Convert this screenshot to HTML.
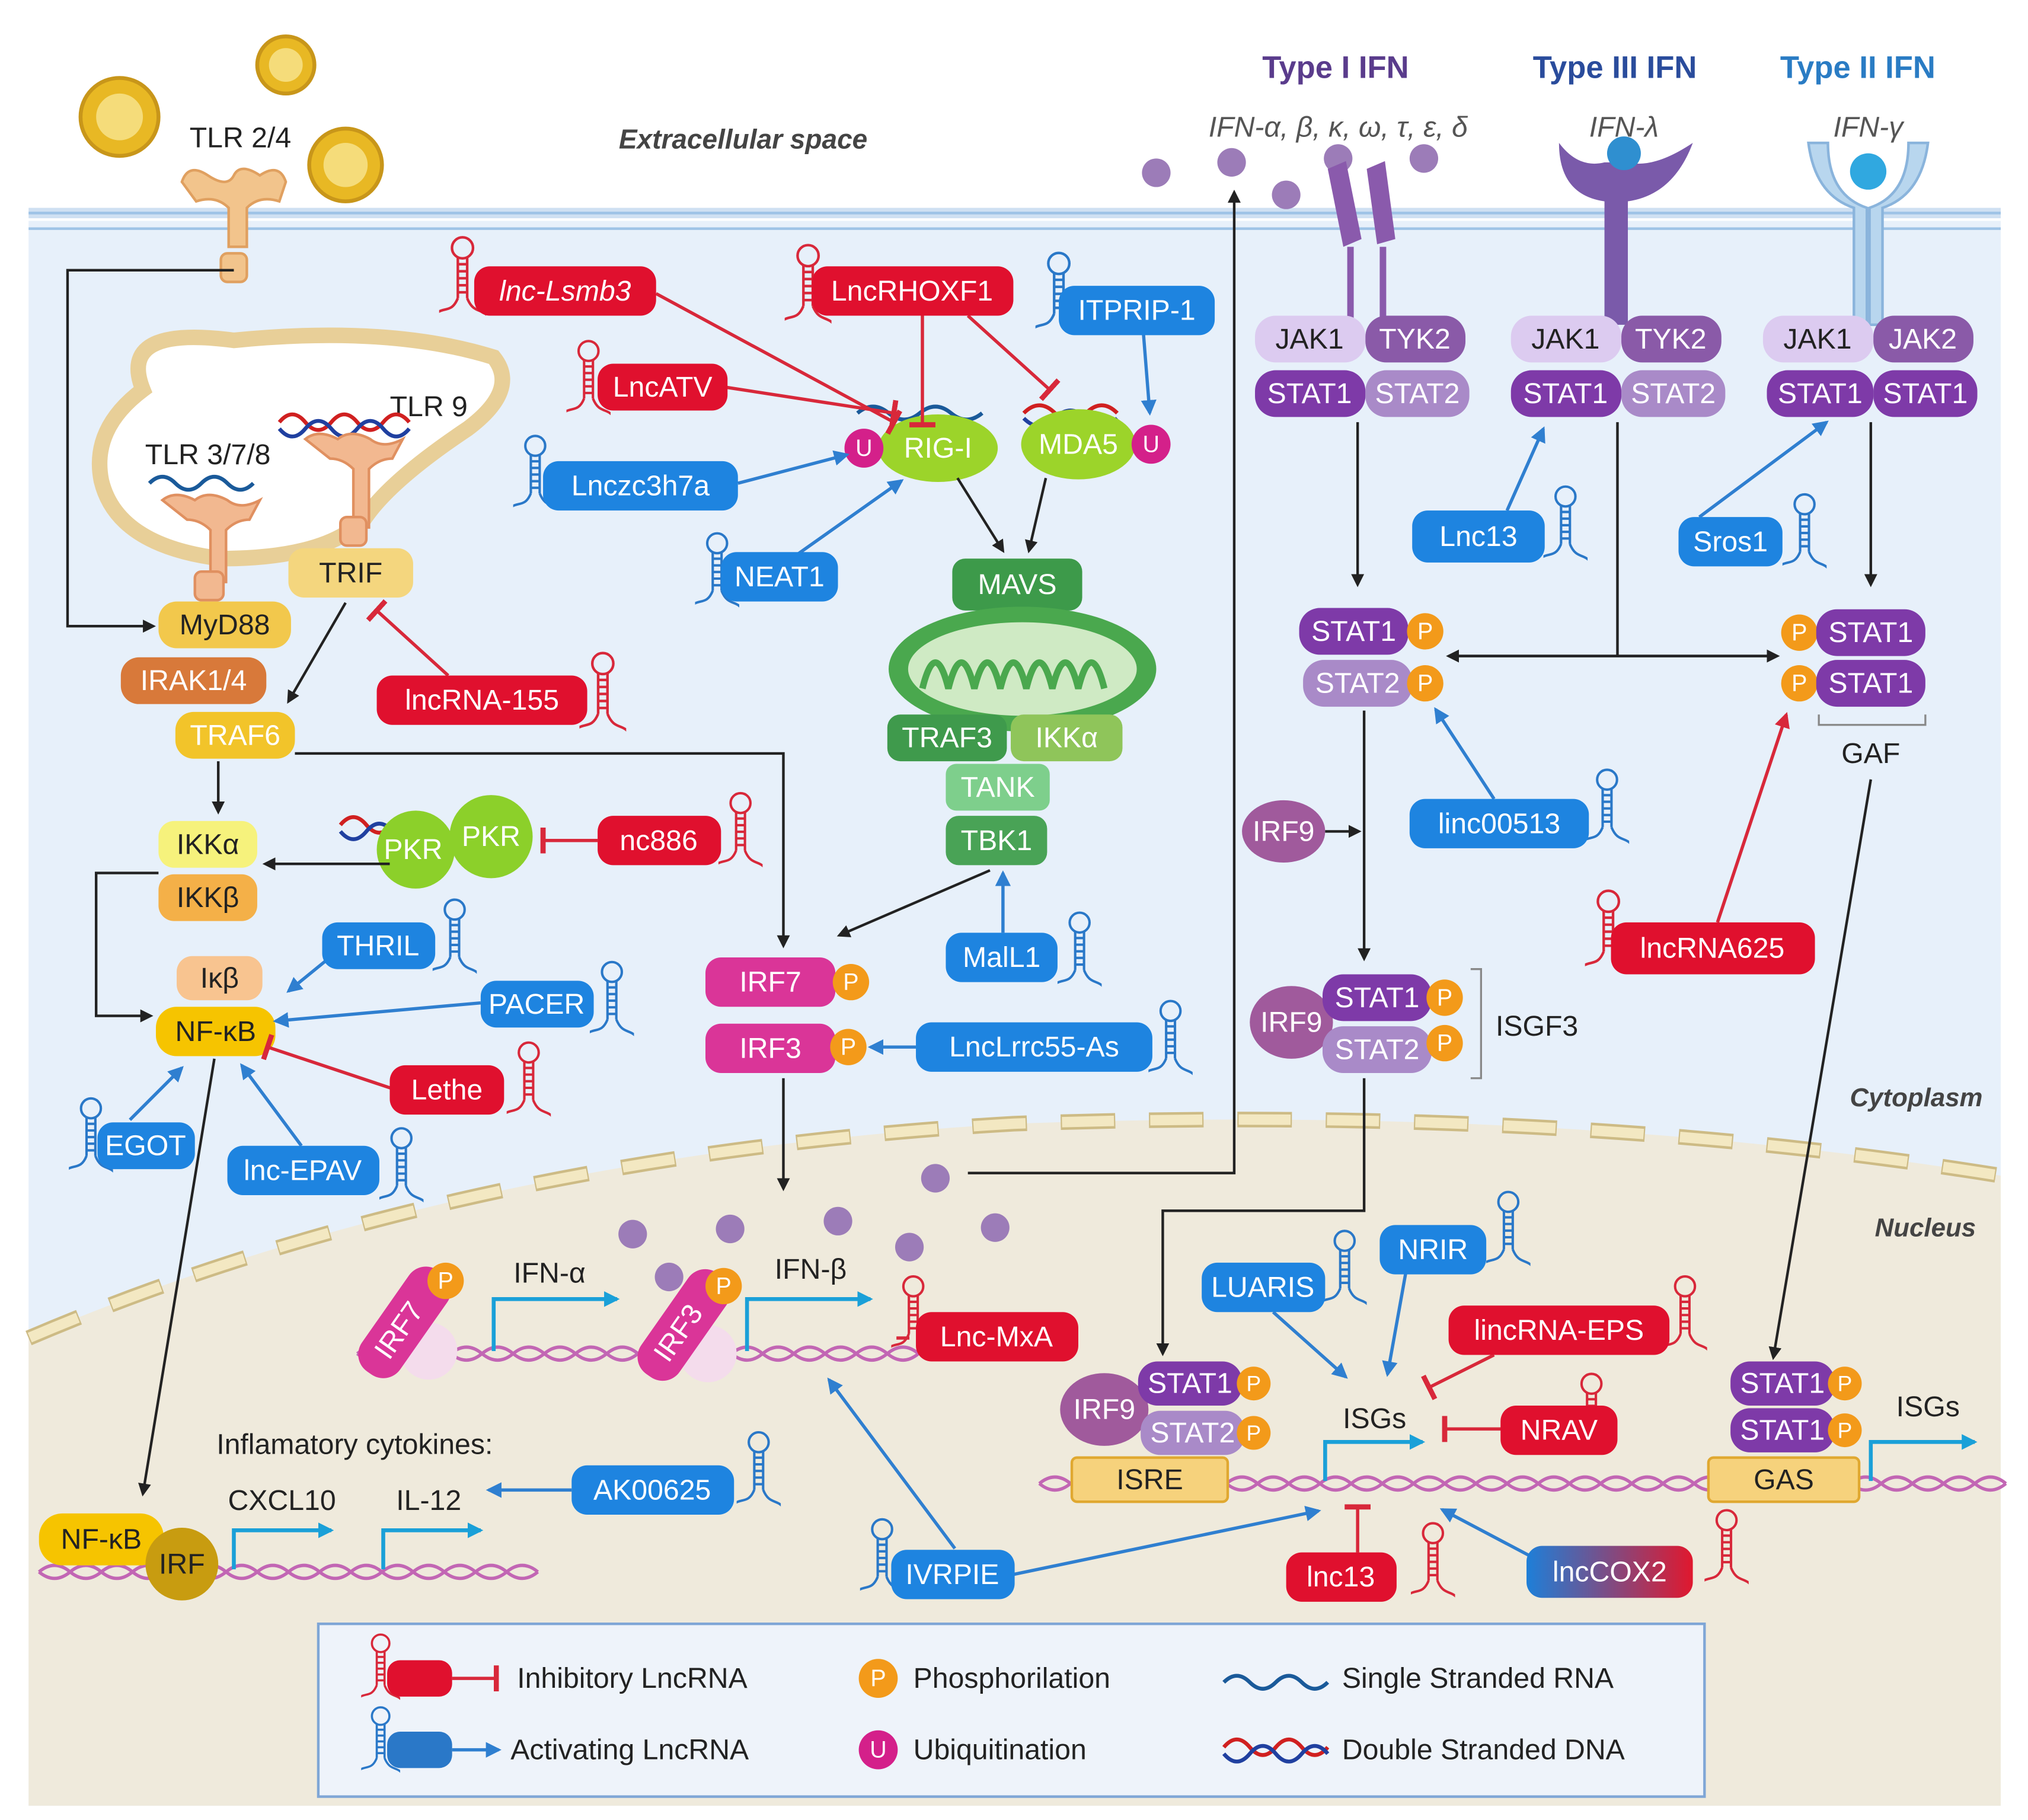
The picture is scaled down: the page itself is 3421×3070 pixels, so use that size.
<!DOCTYPE html>
<html><head><meta charset="utf-8">
<style>
html,body{margin:0;padding:0;background:#fff;}
svg{display:block;}
text{font-family:"Liberation Sans",sans-serif;}
.w{fill:#fff;font-size:22px;text-anchor:middle;dominant-baseline:central;}
.k{fill:#222;font-size:22px;text-anchor:middle;dominant-baseline:central;}
.h{font-size:24px;font-weight:bold;text-anchor:middle;}
.it{font-style:italic;}
</style></head><body>
<svg width="3421" height="3070" viewBox="0 0 1561 1401" preserveAspectRatio="none" xmlns="http://www.w3.org/2000/svg">
<defs>
<marker id="ak" markerWidth="10" markerHeight="10" refX="8" refY="5" orient="auto" markerUnits="userSpaceOnUse"><path d="M0,0 L10,5 L0,10 Z" fill="#222"/></marker>
<marker id="ab" markerWidth="12" markerHeight="12" refX="10" refY="6" orient="auto" markerUnits="userSpaceOnUse"><path d="M0,0 L12,6 L0,12 Z" fill="#2f7fd0"/></marker>
<marker id="ar" markerWidth="12" markerHeight="12" refX="10" refY="6" orient="auto" markerUnits="userSpaceOnUse"><path d="M0,0 L12,6 L0,12 Z" fill="#d8283a"/></marker>
<marker id="ac" markerWidth="12" markerHeight="12" refX="10" refY="6" orient="auto" markerUnits="userSpaceOnUse"><path d="M0,0 L12,6 L0,12 Z" fill="#1aa0d8"/></marker>
<marker id="bar" markerWidth="4" markerHeight="20" refX="2" refY="10" orient="auto" markerUnits="userSpaceOnUse"><rect x="0" y="0" width="4" height="20" fill="#d8283a"/></marker>
<symbol id="hp" viewBox="0 0 40 80"><g fill="none" stroke="currentColor" stroke-width="2.2"><circle cx="20" cy="12" r="9"/><path d="M16,20 V55 M24,20 V55 M16,26 H24 M16,32 H24 M16,38 H24 M16,44 H24 M16,50 H24 M16,55 C10,70 2,60 -6,72 M24,55 C30,70 38,62 44,74"/></g></symbol>
<linearGradient id="cox" x1="0" x2="1"><stop offset="0" stop-color="#1e7fd8"/><stop offset="1" stop-color="#e0182e"/></linearGradient>
</defs>

<!-- backgrounds -->
<rect x="22" y="170" width="1518" height="1220" fill="#e7f0fa"/>
<rect x="22" y="160" width="1518" height="8" fill="#cfe0f2"/>
<line x1="22" y1="164" x2="1540" y2="164" stroke="#9ec3e6" stroke-width="2"/>
<line x1="22" y1="176" x2="1540" y2="176" stroke="#9ec3e6" stroke-width="2"/>
<path d="M22,1030 Q 350,890 780,865 Q 1200,850 1540,905 L1540,1390 L22,1390 Z" fill="#efeadc"/>
<path d="M22,1030 Q 350,890 780,865 Q 1200,850 1540,905" fill="none" stroke="#cdbb85" stroke-width="12" stroke-dasharray="42 26"/>
<path d="M22,1030 Q 350,890 780,865 Q 1200,850 1540,905" fill="none" stroke="#f3e8c2" stroke-width="8" stroke-dasharray="40 28" stroke-dashoffset="-1"/>

<text x="572" y="107" class="k it" style="font-weight:bold;fill:#444;font-size:21px">Extracellular space</text>
<text x="1475" y="845" class="k it" style="font-weight:bold;fill:#444;font-size:20px">Cytoplasm</text>
<text x="1482" y="945" class="k it" style="font-weight:bold;fill:#444;font-size:20px">Nucleus</text>

<!-- viruses -->
<g fill="#e8b824" stroke="#c8961a" stroke-width="3">
<circle cx="92" cy="90" r="30"/><circle cx="220" cy="50" r="22"/><circle cx="266" cy="127" r="28"/></g>
<g fill="#f5dc7a"><circle cx="92" cy="90" r="18"/><circle cx="220" cy="50" r="13"/><circle cx="266" cy="127" r="17"/></g>
<text x="185" y="106" class="k">TLR 2/4</text>
<!-- TLR2/4 receptor -->
<g fill="#f2c48c" stroke="#e0a060" stroke-width="2">
<path d="M140,140 q5,-15 20,-5 q15,10 20,0 q5,-10 20,0 q15,-10 20,5 l-5,15 q-15,-5 -25,5 l0,30 h-14 v-30 q-10,-10 -25,-5z"/>
<rect x="170" y="195" width="20" height="22" rx="5"/></g>

<!-- endosome -->
<path d="M110,300 Q90,250 180,262 Q300,250 380,275 Q400,300 360,330 Q300,370 280,400 Q250,430 170,430 Q90,420 78,370 Q70,330 110,300Z" fill="#fff" stroke="#e8cf98" stroke-width="12"/>
<text x="160" y="350" class="k">TLR 3/7/8</text>
<text x="330" y="313" class="k">TLR 9</text>
<path d="M115,372 q10,-10 20,0 t20,0 t20,0 t20,0" fill="none" stroke="#1a5a9a" stroke-width="3"/>
<path d="M215,325 q10,-12 20,0 t20,0 t20,0 t20,0 t20,0" fill="none" stroke="#d02020" stroke-width="3"/>
<path d="M215,330 q10,12 20,0 t20,0 t20,0 t20,0 t20,0" fill="none" stroke="#2040a0" stroke-width="3"/>
<g fill="#f2b890" stroke="#e09060" stroke-width="2">
<path d="M125,385 q10,-8 25,0 q10,-8 25,0 q10,8 25,0 l-8,15 q-10,0 -18,8 v40 h-12 v-40 q-8,-8 -18,-8z"/><rect x="150" y="440" width="22" height="22" rx="5"/>
<path d="M235,338 q10,-8 25,0 q10,-8 25,0 q10,8 25,0 l-8,15 q-10,0 -18,8 v45 h-12 v-45 q-8,-8 -18,-8z"/><rect x="262" y="398" width="20" height="22" rx="5"/></g>

<!-- TLR left column nodes -->
<rect x="222" y="422" width="96" height="38" rx="12" fill="#f4d67e"/><text x="270" y="441" class="k">TRIF</text>
<rect x="122" y="463" width="102" height="36" rx="14" fill="#f2c84c"/><text x="173" y="481" class="k">MyD88</text>
<rect x="93" y="506" width="112" height="36" rx="14" fill="#d8793a"/><text x="149" y="524" class="w">IRAK1/4</text>
<rect x="135" y="548" width="92" height="36" rx="14" fill="#f2c42a"/><text x="181" y="566" class="w">TRAF6</text>
<rect x="122" y="632" width="76" height="36" rx="12" fill="#f6f27c"/><text x="160" y="650" class="k">IKKα</text>
<rect x="122" y="673" width="76" height="36" rx="12" fill="#f4b048"/><text x="160" y="691" class="k">IKKβ</text>
<rect x="136" y="736" width="66" height="34" rx="12" fill="#f8c490"/><text x="169" y="753" class="k">Iκβ</text>
<rect x="120" y="775" width="92" height="38" rx="16" fill="#f6c400"/><text x="166" y="794" class="k">NF-κB</text>

<!-- PKR -->
<path d="M262,635 q10,-12 20,0 t20,0 t20,0 t20,0" fill="none" stroke="#d02020" stroke-width="3"/>
<path d="M262,640 q10,12 20,0 t20,0 t20,0 t20,0" fill="none" stroke="#2040a0" stroke-width="3"/>
<circle cx="320" cy="654" r="30" fill="#8cd02a"/><circle cx="378" cy="644" r="32" fill="#8cd02a"/>
<text x="318" y="654" class="w">PKR</text><text x="378" y="644" class="w">PKR</text>

<!-- RIG-I / MDA5 -->
<path d="M660,318 q12,-10 24,0 t24,0 t24,0 t24,0" fill="none" stroke="#1a5a9a" stroke-width="3"/>
<ellipse cx="722" cy="345" rx="46" ry="26" fill="#9cd42a"/><text x="722" y="345" class="w">RIG-I</text>
<circle cx="665" cy="345" r="15" fill="#d4208a"/><text x="665" y="345" class="w" style="font-size:18px">U</text>
<path d="M788,318 q12,-12 24,0 t24,0 t24,0" fill="none" stroke="#d02020" stroke-width="3"/>
<path d="M788,322 q12,12 24,0 t24,0 t24,0" fill="none" stroke="#2040a0" stroke-width="3"/>
<ellipse cx="830" cy="342" rx="44" ry="27" fill="#9cd42a"/><text x="830" y="342" class="w">MDA5</text>
<circle cx="886" cy="342" r="15" fill="#d4208a"/><text x="886" y="342" class="w" style="font-size:18px">U</text>

<!-- Mitochondria -->
<rect x="733" y="430" width="100" height="40" rx="10" fill="#3d9a4a"/><text x="783" y="450" class="w">MAVS</text>
<ellipse cx="787" cy="515" rx="103" ry="48" fill="#4aa84e"/>
<ellipse cx="787" cy="515" rx="88" ry="36" fill="#cfeac4"/>
<path d="M710,530 q10,-40 20,0 q10,-40 20,0 q10,-40 20,0 q10,-40 20,0 q10,-40 20,0 q10,-40 20,0 q10,-40 20,0" fill="none" stroke="#4aa84e" stroke-width="5"/>
<rect x="683" y="550" width="92" height="36" rx="10" fill="#3f9a4c"/><text x="729" y="568" class="w">TRAF3</text>
<rect x="778" y="550" width="86" height="36" rx="10" fill="#8fc55a"/><text x="821" y="568" class="w">IKKα</text>
<rect x="728" y="588" width="80" height="36" rx="8" fill="#7ecf8c"/><text x="768" y="606" class="w">TANK</text>
<rect x="728" y="628" width="78" height="38" rx="10" fill="#49a356"/><text x="767" y="647" class="w">TBK1</text>

<!-- IRF7/IRF3 -->
<rect x="543" y="737" width="100" height="38" rx="12" fill="#da3598"/><text x="593" y="756" class="w">IRF7</text>
<circle cx="655" cy="756" r="14" fill="#f39a1a"/><text x="655" y="756" class="w" style="font-size:18px">P</text>
<rect x="543" y="788" width="100" height="38" rx="12" fill="#da3598"/><text x="593" y="807" class="w">IRF3</text>
<circle cx="653" cy="806" r="14" fill="#f39a1a"/><text x="653" y="806" class="w" style="font-size:18px">P</text>

<!-- IFN headers -->
<text x="1028" y="60" class="h" style="fill:#5a3c8c">Type I IFN</text>
<text x="1243" y="60" class="h" style="fill:#2a4c9c">Type III IFN</text>
<text x="1430" y="60" class="h" style="fill:#2a7cc4">Type II IFN</text>
<text x="1030" y="98" class="k it" style="fill:#555">IFN-α, β, κ, ω, τ, ε, δ</text>
<text x="1250" y="98" class="k it" style="fill:#555">IFN-λ</text>
<text x="1438" y="98" class="k it" style="fill:#555">IFN-γ</text>
<g fill="#9c7cb8"><circle cx="890" cy="133" r="11"/><circle cx="948" cy="125" r="11"/><circle cx="990" cy="150" r="11"/><circle cx="1030" cy="122" r="11"/><circle cx="1096" cy="122" r="11"/>
<circle cx="720" cy="907" r="11"/><circle cx="487" cy="950" r="11"/><circle cx="562" cy="946" r="11"/><circle cx="645" cy="940" r="11"/><circle cx="700" cy="960" r="11"/><circle cx="766" cy="945" r="11"/><circle cx="515" cy="983" r="11"/></g>
<!-- receptors -->
<g fill="#8a5aac"><path d="M1022,130 l14,-6 l12,60 l-14,6z"/><path d="M1052,130 l14,-6 l8,60 l-14,4z"/>
<rect x="1037" y="190" width="5" height="60"/><rect x="1062" y="190" width="5" height="60"/></g>
<path d="M1200,110 q0,40 35,45 v95 h18 v-95 q35,-5 50,-45 q-30,20 -50,15 h-18 q-20,5 -35,-15z" fill="#7a5aaa"/>
<circle cx="1250" cy="118" r="13" fill="#2f8fd0"/>
<g fill="#b8d6ee" stroke="#8ab4dc" stroke-width="2"><path d="M1392,110 q5,40 35,50 v90 h10 v-90 q-30,-10 -30,-50z"/><path d="M1484,110 q-5,40 -35,50 v90 h-10 v-90 q30,-10 30,-50z"/></g>
<circle cx="1438" cy="132" r="14" fill="#30a8e0"/>

<!-- JAK/STAT top -->
<g>
<rect x="966" y="243" width="85" height="36" rx="16" fill="#dccbf0"/><text x="1008" y="261" class="k">JAK1</text>
<rect x="1051" y="243" width="77" height="36" rx="16" fill="#8a5aa8"/><text x="1089" y="261" class="w">TYK2</text>
<rect x="966" y="285" width="85" height="36" rx="16" fill="#7e3aa8"/><text x="1008" y="303" class="w">STAT1</text>
<rect x="1051" y="285" width="80" height="36" rx="16" fill="#a98ac8"/><text x="1091" y="303" class="w">STAT2</text>
<rect x="1163" y="243" width="85" height="36" rx="16" fill="#dccbf0"/><text x="1205" y="261" class="k">JAK1</text>
<rect x="1248" y="243" width="77" height="36" rx="16" fill="#8a5aa8"/><text x="1286" y="261" class="w">TYK2</text>
<rect x="1163" y="285" width="85" height="36" rx="16" fill="#7e3aa8"/><text x="1205" y="303" class="w">STAT1</text>
<rect x="1248" y="285" width="80" height="36" rx="16" fill="#a98ac8"/><text x="1288" y="303" class="w">STAT2</text>
<rect x="1357" y="243" width="85" height="36" rx="16" fill="#dccbf0"/><text x="1399" y="261" class="k">JAK1</text>
<rect x="1442" y="243" width="77" height="36" rx="16" fill="#8a5aa8"/><text x="1480" y="261" class="w">JAK2</text>
<rect x="1360" y="285" width="82" height="36" rx="16" fill="#7e3aa8"/><text x="1401" y="303" class="w">STAT1</text>
<rect x="1442" y="285" width="80" height="36" rx="16" fill="#7e3aa8"/><text x="1482" y="303" class="w">STAT1</text>
</g>
<!-- phospho STATs -->
<rect x="1000" y="468" width="84" height="36" rx="16" fill="#7e3aa8"/><text x="1042" y="486" class="w">STAT1</text><circle cx="1097" cy="486" r="14" fill="#f39a1a"/><text x="1097" y="486" class="w" style="font-size:18px">P</text>
<rect x="1003" y="508" width="84" height="36" rx="16" fill="#a98ac8"/><text x="1045" y="526" class="w">STAT2</text><circle cx="1097" cy="526" r="14" fill="#f39a1a"/><text x="1097" y="526" class="w" style="font-size:18px">P</text>
<circle cx="1385" cy="487" r="14" fill="#f39a1a"/><text x="1385" y="487" class="w" style="font-size:18px">P</text><rect x="1398" y="469" width="84" height="36" rx="16" fill="#7e3aa8"/><text x="1440" y="487" class="w">STAT1</text>
<circle cx="1385" cy="526" r="14" fill="#f39a1a"/><text x="1385" y="526" class="w" style="font-size:18px">P</text><rect x="1398" y="508" width="84" height="36" rx="16" fill="#7e3aa8"/><text x="1440" y="526" class="w">STAT1</text>
<path d="M1400,550 v8 h82 v-8" fill="none" stroke="#888" stroke-width="1.5"/>
<text x="1440" y="580" class="k">GAF</text>
<ellipse cx="988" cy="640" rx="32" ry="24" fill="#a05a9c"/><text x="988" y="640" class="w">IRF9</text>
<!-- ISGF3 -->
<ellipse cx="994" cy="787" rx="32" ry="28" fill="#a05a9c"/><text x="994" y="787" class="w">IRF9</text>
<rect x="1018" y="750" width="84" height="36" rx="16" fill="#7e3aa8"/><text x="1060" y="768" class="w">STAT1</text><circle cx="1112" cy="768" r="14" fill="#f39a1a"/><text x="1112" y="768" class="w" style="font-size:18px">P</text>
<rect x="1018" y="790" width="84" height="36" rx="16" fill="#a98ac8"/><text x="1060" y="808" class="w">STAT2</text><circle cx="1112" cy="803" r="14" fill="#f39a1a"/><text x="1112" y="803" class="w" style="font-size:18px">P</text>
<path d="M1132,746 h8 v84 h-8" fill="none" stroke="#888" stroke-width="1.5"/>
<text x="1183" y="790" class="k">ISGF3</text>

<!-- DNA strands -->
<g fill="none" stroke="#c266b4" stroke-width="2.5">
<path d="M275,1042 q12,-10 24,0 t24,0 t24,0 t24,0 t24,0 t24,0 t24,0 t24,0 t24,0 t24,0 t24,0 t24,0 t24,0 t24,0 t24,0 t24,0 t24,0 t24,0"/>
<path d="M275,1042 q12,10 24,0 t24,0 t24,0 t24,0 t24,0 t24,0 t24,0 t24,0 t24,0 t24,0 t24,0 t24,0 t24,0 t24,0 t24,0 t24,0 t24,0 t24,0"/>
<path d="M800,1142 q12,-10 24,0 t24,0 t24,0 t24,0 t24,0 t24,0 t24,0 t24,0 t24,0 t24,0 t24,0 t24,0 t24,0 t24,0 t24,0 t24,0 t24,0 t24,0 t24,0 t24,0 t24,0 t24,0 t24,0 t24,0 t24,0 t24,0 t24,0 t24,0 t24,0 t24,0 t24,0"/>
<path d="M800,1142 q12,10 24,0 t24,0 t24,0 t24,0 t24,0 t24,0 t24,0 t24,0 t24,0 t24,0 t24,0 t24,0 t24,0 t24,0 t24,0 t24,0 t24,0 t24,0 t24,0 t24,0 t24,0 t24,0 t24,0 t24,0 t24,0 t24,0 t24,0 t24,0 t24,0 t24,0 t24,0"/>
<path d="M30,1210 q12,-10 24,0 t24,0 t24,0 t24,0 t24,0 t24,0 t24,0 t24,0 t24,0 t24,0 t24,0 t24,0 t24,0 t24,0 t24,0 t24,0"/>
<path d="M30,1210 q12,10 24,0 t24,0 t24,0 t24,0 t24,0 t24,0 t24,0 t24,0 t24,0 t24,0 t24,0 t24,0 t24,0 t24,0 t24,0 t24,0"/>
</g>
<!-- IRF7/IRF3 on DNA -->
<circle cx="330" cy="1040" r="22" fill="#f4dcec"/><circle cx="545" cy="1042" r="22" fill="#f4dcec"/>
<g transform="rotate(-55 310 1020)"><rect x="265" y="1002" width="95" height="36" rx="16" fill="#da3598"/><text x="305" y="1020" class="w">IRF7</text></g>
<circle cx="343" cy="986" r="14" fill="#f39a1a"/><text x="343" y="986" class="w" style="font-size:18px">P</text>
<g transform="rotate(-55 525 1022)"><rect x="480" y="1004" width="95" height="36" rx="16" fill="#da3598"/><text x="520" y="1022" class="w">IRF3</text></g>
<circle cx="557" cy="990" r="14" fill="#f39a1a"/><text x="557" y="990" class="w" style="font-size:18px">P</text>
<g fill="none" stroke="#1aa0d8" stroke-width="3">
<path d="M380,1040 v-40 h95" marker-end="url(#ac)"/>
<path d="M575,1040 v-40 h95" marker-end="url(#ac)"/>
<path d="M180,1208 v-30 h75" marker-end="url(#ac)"/>
<path d="M295,1208 v-30 h75" marker-end="url(#ac)"/>
<path d="M1020,1140 v-30 h75" marker-end="url(#ac)"/>
<path d="M1440,1140 v-30 h80" marker-end="url(#ac)"/>
</g>
<text x="423" y="980" class="k">IFN-α</text>
<text x="624" y="977" class="k">IFN-β</text>
<text x="273" y="1112" class="k">Inflamatory cytokines:</text>
<text x="217" y="1155" class="k">CXCL10</text>
<text x="330" y="1155" class="k">IL-12</text>
<text x="1058" y="1092" class="k">ISGs</text>
<text x="1484" y="1083" class="k">ISGs</text>
<!-- NF-kB / IRF nuclear -->
<rect x="30" y="1165" width="96" height="40" rx="18" fill="#f6c400"/><text x="78" y="1185" class="k">NF-κB</text>
<circle cx="140" cy="1204" r="28" fill="#c89c10"/><text x="140" y="1204" class="k">IRF</text>
<!-- ISRE / GAS -->
<rect x="825" y="1122" width="120" height="34" rx="4" fill="#f6d27c" stroke="#e0a830" stroke-width="2"/><text x="885" y="1139" class="k">ISRE</text>
<ellipse cx="850" cy="1085" rx="34" ry="28" fill="#a05a9c"/><text x="850" y="1085" class="w">IRF9</text>
<rect x="876" y="1048" width="80" height="34" rx="15" fill="#7e3aa8"/><text x="916" y="1065" class="w">STAT1</text><circle cx="965" cy="1065" r="13" fill="#f39a1a"/><text x="965" y="1065" class="w" style="font-size:17px">P</text>
<rect x="878" y="1086" width="80" height="34" rx="15" fill="#a98ac8"/><text x="918" y="1103" class="w">STAT2</text><circle cx="965" cy="1103" r="13" fill="#f39a1a"/><text x="965" y="1103" class="w" style="font-size:17px">P</text>
<rect x="1315" y="1122" width="116" height="34" rx="4" fill="#f6d27c" stroke="#e0a830" stroke-width="2"/><text x="1373" y="1139" class="k">GAS</text>
<rect x="1332" y="1048" width="80" height="34" rx="15" fill="#7e3aa8"/><text x="1372" y="1065" class="w">STAT1</text><circle cx="1420" cy="1065" r="13" fill="#f39a1a"/><text x="1420" y="1065" class="w" style="font-size:17px">P</text>
<rect x="1332" y="1084" width="80" height="34" rx="15" fill="#7e3aa8"/><text x="1372" y="1101" class="w">STAT1</text><circle cx="1420" cy="1101" r="13" fill="#f39a1a"/><text x="1420" y="1101" class="w" style="font-size:17px">P</text>

<!-- black connectors -->
<g fill="none" stroke="#222" stroke-width="2">
<path d="M180,208 H52 V482 H118" marker-end="url(#ak)"/>
<path d="M266,464 L222,540" marker-end="url(#ak)"/>
<path d="M168,586 V625" marker-end="url(#ak)"/>
<path d="M227,580 H603 V728" marker-end="url(#ak)"/>
<path d="M300,665 H204" marker-end="url(#ak)"/>
<path d="M122,672 H74 V782 H116" marker-end="url(#ak)"/>
<path d="M165,815 L110,1150" marker-end="url(#ak)"/>
<path d="M737,368 L772,424" marker-end="url(#ak)"/>
<path d="M805,368 L792,424" marker-end="url(#ak)"/>
<path d="M762,670 L646,720" marker-end="url(#ak)"/>
<path d="M603,830 V915" marker-end="url(#ak)"/>
<path d="M745,903 H950 V148" marker-end="url(#ak)"/>
<path d="M1045,325 V450" marker-end="url(#ak)"/>
<path d="M1440,325 V450" marker-end="url(#ak)"/>
<path d="M1245,325 V505"/>
<path d="M1120,505 H1368" marker-end="url(#ak)"/>
<path d="M1360,505 H1115" marker-end="url(#ak)"/>
<path d="M1050,547 V738" marker-end="url(#ak)"/>
<path d="M1020,640 H1046" marker-end="url(#ak)"/>
<path d="M1050,830 V932 H895 V1042" marker-end="url(#ak)"/>
<path d="M1440,600 L1365,1045" marker-end="url(#ak)"/>
</g>
<!-- blue connectors -->
<g fill="none" stroke="#2f7fd0" stroke-width="2.5">
<path d="M880,255 L885,318" marker-end="url(#ab)"/>
<path d="M568,372 L652,350" marker-end="url(#ab)"/>
<path d="M612,428 L694,370" marker-end="url(#ab)"/>
<path d="M772,718 V672" marker-end="url(#ab)"/>
<path d="M705,806 H670" marker-end="url(#ab)"/>
<path d="M265,728 L222,763" marker-end="url(#ab)"/>
<path d="M370,772 L212,786" marker-end="url(#ab)"/>
<path d="M100,862 L140,822" marker-end="url(#ab)"/>
<path d="M232,882 L186,820" marker-end="url(#ab)"/>
<path d="M1160,393 L1188,330" marker-end="url(#ab)"/>
<path d="M1308,398 L1406,325" marker-end="url(#ab)"/>
<path d="M1150,615 L1105,546" marker-end="url(#ab)"/>
<path d="M980,1010 L1036,1060" marker-end="url(#ab)"/>
<path d="M1082,980 L1068,1058" marker-end="url(#ab)"/>
<path d="M780,1212 L1015,1163" marker-end="url(#ab)"/>
<path d="M735,1192 L638,1062" marker-end="url(#ab)"/>
<path d="M1182,1200 L1110,1162" marker-end="url(#ab)"/>
<path d="M440,1147 L376,1147" marker-end="url(#ab)"/>
</g>
<!-- red connectors -->
<g fill="none" stroke="#d8283a" stroke-width="2.5">
<path d="M505,226 L688,325" marker-end="url(#bar)"/>
<path d="M558,298 L688,318" marker-end="url(#bar)"/>
<path d="M710,243 V327" marker-end="url(#bar)"/>
<path d="M745,243 L808,300" marker-end="url(#bar)"/>
<path d="M345,520 L290,470" marker-end="url(#bar)"/>
<path d="M460,647 L418,647" marker-end="url(#bar)"/>
<path d="M302,838 L206,806" marker-end="url(#bar)"/>
<path d="M1150,1043 L1100,1068" marker-end="url(#bar)"/>
<path d="M1160,1100 L1112,1100" marker-end="url(#bar)"/>
<path d="M1045,1195 V1160" marker-end="url(#bar)"/>
<path d="M700,1030 L690,1030"/>
<path d="M1322,710 L1375,550" marker-end="url(#ar)"/>
</g>

<!-- hairpins -->
<g style="color:#d8283a">
<use href="#hp" x="338" y="180" width="36" height="72"/>
<use href="#hp" x="604" y="186" width="36" height="72"/>
<use href="#hp" x="436" y="260" width="34" height="68"/>
<use href="#hp" x="446" y="500" width="36" height="72"/>
<use href="#hp" x="553" y="608" width="34" height="68"/>
<use href="#hp" x="390" y="800" width="34" height="68"/>
<use href="#hp" x="1220" y="683" width="36" height="72"/>
<use href="#hp" x="686" y="980" width="34" height="68"/>
<use href="#hp" x="1280" y="980" width="34" height="68"/>
<use href="#hp" x="1208" y="1055" width="34" height="68"/>
<use href="#hp" x="1086" y="1170" width="34" height="68"/>
<use href="#hp" x="1312" y="1160" width="34" height="68"/>
</g>
<g style="color:#2a78c8">
<use href="#hp" x="797" y="192" width="36" height="72"/>
<use href="#hp" x="395" y="333" width="34" height="68"/>
<use href="#hp" x="535" y="408" width="34" height="68"/>
<use href="#hp" x="333" y="690" width="34" height="68"/>
<use href="#hp" x="454" y="738" width="34" height="68"/>
<use href="#hp" x="53" y="843" width="34" height="68"/>
<use href="#hp" x="292" y="866" width="34" height="68"/>
<use href="#hp" x="814" y="700" width="34" height="68"/>
<use href="#hp" x="884" y="768" width="34" height="68"/>
<use href="#hp" x="1188" y="372" width="34" height="68"/>
<use href="#hp" x="1372" y="378" width="34" height="68"/>
<use href="#hp" x="1220" y="590" width="34" height="68"/>
<use href="#hp" x="1018" y="945" width="34" height="68"/>
<use href="#hp" x="1144" y="915" width="34" height="68"/>
<use href="#hp" x="567" y="1100" width="34" height="68"/>
<use href="#hp" x="662" y="1167" width="34" height="68"/>
</g>

<!-- pills -->
<rect x="365" y="205" width="140" height="38" rx="12" fill="#e0102e"/><text x="435" y="224" class="w it">lnc-Lsmb3</text>
<rect x="625" y="205" width="155" height="38" rx="12" fill="#e0102e"/><text x="702" y="224" class="w">LncRHOXF1</text>
<rect x="815" y="220" width="120" height="38" rx="12" fill="#1e84e0"/><text x="875" y="239" class="w">ITPRIP-1</text>
<rect x="460" y="280" width="100" height="36" rx="12" fill="#e0102e"/><text x="510" y="298" class="w">LncATV</text>
<rect x="418" y="355" width="150" height="38" rx="12" fill="#1e84e0"/><text x="493" y="374" class="w">Lnczc3h7a</text>
<rect x="555" y="425" width="90" height="38" rx="12" fill="#1e84e0"/><text x="600" y="444" class="w">NEAT1</text>
<rect x="290" y="520" width="162" height="38" rx="12" fill="#e0102e"/><text x="371" y="539" class="w">lncRNA-155</text>
<rect x="460" y="628" width="95" height="38" rx="12" fill="#e0102e"/><text x="507" y="647" class="w">nc886</text>
<rect x="248" y="710" width="87" height="36" rx="12" fill="#1e84e0"/><text x="291" y="728" class="w">THRIL</text>
<rect x="370" y="755" width="87" height="36" rx="12" fill="#1e84e0"/><text x="413" y="773" class="w">PACER</text>
<rect x="300" y="820" width="88" height="38" rx="12" fill="#e0102e"/><text x="344" y="839" class="w">Lethe</text>
<rect x="75" y="864" width="75" height="36" rx="12" fill="#1e84e0"/><text x="112" y="882" class="w">EGOT</text>
<rect x="175" y="882" width="117" height="38" rx="12" fill="#1e84e0"/><text x="233" y="901" class="w">lnc-EPAV</text>
<rect x="728" y="718" width="86" height="38" rx="12" fill="#1e84e0"/><text x="771" y="737" class="w">MalL1</text>
<rect x="705" y="787" width="182" height="38" rx="12" fill="#1e84e0"/><text x="796" y="806" class="w">LncLrrc55-As</text>
<rect x="1087" y="393" width="102" height="40" rx="12" fill="#1e84e0"/><text x="1138" y="413" class="w">Lnc13</text>
<rect x="1292" y="398" width="80" height="38" rx="12" fill="#1e84e0"/><text x="1332" y="417" class="w">Sros1</text>
<rect x="1085" y="615" width="138" height="38" rx="12" fill="#1e84e0"/><text x="1154" y="634" class="w">linc00513</text>
<rect x="1240" y="710" width="157" height="40" rx="12" fill="#e0102e"/><text x="1318" y="730" class="w">lncRNA625</text>
<rect x="925" y="972" width="95" height="38" rx="12" fill="#1e84e0"/><text x="972" y="991" class="w">LUARIS</text>
<rect x="1062" y="943" width="82" height="38" rx="12" fill="#1e84e0"/><text x="1103" y="962" class="w">NRIR</text>
<rect x="1115" y="1005" width="170" height="38" rx="12" fill="#e0102e"/><text x="1200" y="1024" class="w">lincRNA-EPS</text>
<rect x="1155" y="1082" width="90" height="38" rx="12" fill="#e0102e"/><text x="1200" y="1101" class="w">NRAV</text>
<rect x="705" y="1010" width="125" height="38" rx="12" fill="#e0102e"/><text x="767" y="1029" class="w">Lnc-MxA</text>
<rect x="440" y="1128" width="125" height="38" rx="12" fill="#1e84e0"/><text x="502" y="1147" class="w">AK00625</text>
<rect x="686" y="1193" width="95" height="38" rx="12" fill="#1e84e0"/><text x="733" y="1212" class="w">IVRPIE</text>
<rect x="990" y="1195" width="85" height="38" rx="12" fill="#e0102e"/><text x="1032" y="1214" class="w">lnc13</text>
<rect x="1175" y="1190" width="128" height="40" rx="12" fill="url(#cox)"/><text x="1239" y="1210" class="w">lncCOX2</text>

<!-- legend -->
<rect x="245" y="1250" width="1067" height="133" fill="#eef3fa" stroke="#7fa6d6" stroke-width="2"/>
<g style="color:#d8283a"><use href="#hp" x="278" y="1256" width="30" height="60"/></g>
<rect x="298" y="1278" width="50" height="28" rx="10" fill="#e0102e"/>
<path d="M348,1292 H382" stroke="#d8283a" stroke-width="2.5" marker-end="url(#bar)"/>
<text x="398" y="1292" class="k" style="text-anchor:start">Inhibitory LncRNA</text>
<g style="color:#2a78c8"><use href="#hp" x="278" y="1312" width="30" height="60"/></g>
<rect x="298" y="1333" width="50" height="28" rx="10" fill="#2a78c8"/>
<path d="M348,1347 H384" stroke="#2f7fd0" stroke-width="2.5" marker-end="url(#ab)"/>
<text x="393" y="1347" class="k" style="text-anchor:start">Activating LncRNA</text>
<circle cx="676" cy="1292" r="15" fill="#f39a1a"/><text x="676" y="1292" class="w" style="font-size:18px">P</text>
<text x="703" y="1292" class="k" style="text-anchor:start">Phosphorilation</text>
<circle cx="676" cy="1347" r="15" fill="#d4208a"/><text x="676" y="1347" class="w" style="font-size:18px">U</text>
<text x="703" y="1347" class="k" style="text-anchor:start">Ubiquitination</text>
<path d="M942,1295 q10,-10 20,0 t20,0 t20,0 t20,0" fill="none" stroke="#1a5a9a" stroke-width="3"/>
<text x="1033" y="1292" class="k" style="text-anchor:start">Single Stranded RNA</text>
<path d="M942,1345 q10,-12 20,0 t20,0 t20,0 t20,0" fill="none" stroke="#d02020" stroke-width="3"/>
<path d="M942,1350 q10,12 20,0 t20,0 t20,0 t20,0" fill="none" stroke="#2040a0" stroke-width="3"/>
<text x="1033" y="1347" class="k" style="text-anchor:start">Double Stranded DNA</text>
</svg>
</body></html>
